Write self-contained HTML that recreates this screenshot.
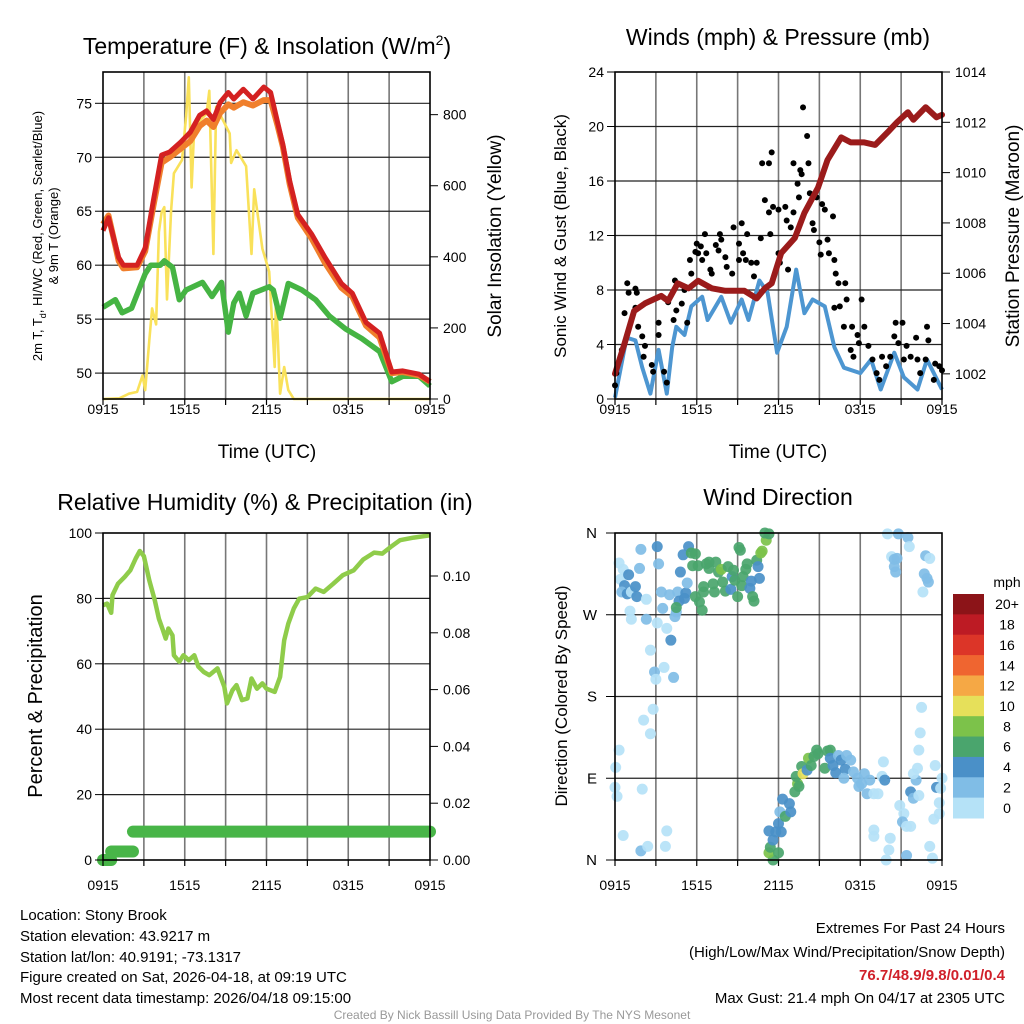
<!DOCTYPE html>
<html><head><meta charset="utf-8"><style>
html,body{margin:0;padding:0;background:#fff;}
svg{display:block;font-family:"Liberation Sans",Arial,sans-serif;}
</style></head><body>
<svg id="chart" width="1024" height="1024" viewBox="0 0 1024 1024" xmlns="http://www.w3.org/2000/svg">
<rect x="0" y="0" width="1024" height="1024" fill="#fff"/>
<g id="p1"></g>
<g id="p2"></g>
<g id="p3"></g>
<g id="p4"></g>

<text x="267" y="54" font-size="23" text-anchor="middle">Temperature (F) &amp; Insolation (W/m<tspan dy="-9" font-size="14">2</tspan><tspan dy="9">)</tspan></text>
<text x="778" y="45" font-size="23" text-anchor="middle">Winds (mph) &amp; Pressure (mb)</text>
<text x="265" y="510" font-size="23" text-anchor="middle">Relative Humidity (%) &amp; Precipitation (in)</text>
<text x="778" y="505" font-size="23" text-anchor="middle">Wind Direction</text>

<text x="267" y="458" font-size="19" text-anchor="middle">Time (UTC)</text>
<text x="778" y="458" font-size="19" text-anchor="middle">Time (UTC)</text>

<text transform="translate(42,236) rotate(-90)" font-size="13" text-anchor="middle">2m T, T<tspan dy="4" font-size="9">d</tspan><tspan dy="-4">, HI/WC (Red, Green, Scarlet/Blue)</tspan></text>
<text transform="translate(58,236) rotate(-90)" font-size="13" text-anchor="middle">&amp; 9m T (Orange)</text>
<text transform="translate(501,236) rotate(-90)" font-size="19" text-anchor="middle">Solar Insolation (Yellow)</text>
<text transform="translate(566,236) rotate(-90)" font-size="17" text-anchor="middle">Sonic Wind &amp; Gust (Blue, Black)</text>
<text transform="translate(1019,236) rotate(-90)" font-size="19" text-anchor="middle">Station Pressure (Maroon)</text>
<text transform="translate(42,696) rotate(-90)" font-size="20" text-anchor="middle">Percent &amp; Precipitation</text>
<text transform="translate(567,696) rotate(-90)" font-size="17" text-anchor="middle">Direction (Colored By Speed)</text>

<g font-size="15">
<text x="20" y="920">Location: Stony Brook</text>
<text x="20" y="941">Station elevation: 43.9217 m</text>
<text x="20" y="962">Station lat/lon: 40.9191; -73.1317</text>
<text x="20" y="982">Figure created on Sat, 2026-04-18, at 09:19 UTC</text>
<text x="20" y="1003">Most recent data timestamp: 2026/04/18 09:15:00</text>
</g>
<g font-size="15" text-anchor="end">
<text x="1005" y="933">Extremes For Past 24 Hours</text>
<text x="1005" y="957">(High/Low/Max Wind/Precipitation/Snow Depth)</text>
<text x="1005" y="980" fill="#d0202a" font-weight="bold">76.7/48.9/9.8/0.01/0.4</text>
<text x="1005" y="1003">Max Gust: 21.4 mph On 04/17 at 2305 UTC</text>
</g>
<text x="512" y="1019" font-size="12" fill="#999" text-anchor="middle">Created By Nick Bassill Using Data Provided By The NYS Mesonet</text>
</svg>
<script>
// ---------- data ----------
const xTickLabels = ["0915","1515","2115","0315","0915"];
const tempT  = [0,0.4,1.15,1.5,2.5,3.1,3.7,4.3,4.9,5.7,6.4,7.1,7.6,8.1,8.6,9.2,9.6,10.3,11,11.8,12.3,12.8,13.2,13.7,14.3,15.3,16.3,17.5,18.3,19.3,20.3,21.2,22,23.2,24];
const tempRed= [63.2,64.4,60.7,60,60,61.6,66,70.2,70.5,71.4,72.3,73.9,74.3,73.5,75.1,76,75.4,76.3,75.4,76.5,76,73.3,71.2,67.8,64.7,62.9,60.7,58.3,57.4,54.7,53.7,50.1,50.2,49.9,49.2];
const temp9m = [63.8,64.6,60.4,59.7,59.8,61.3,65.5,69.5,70.0,70.8,71.5,72.9,73.4,72.8,74.1,74.9,74.6,75.1,74.8,75.3,75.3,73.0,71.0,67.5,64.4,62.5,60.2,57.9,57.1,54.4,53.3,50.0,50.1,49.8,49.2];
const dewT = [0,0.9,1.4,2.1,3.1,3.5,4.2,4.5,5.1,5.6,6.1,7.3,8,8.7,9.2,9.6,10,10.5,11,12.2,12.5,13,13.6,14.6,15.6,16.6,17.8,19,20.3,21.2,22,23.2,24];
const dewV = [56.1,56.8,55.6,56,59.2,60,60,60.4,59.8,56.8,57.7,58.4,57.1,58.4,53.8,56.5,57.4,55.3,57.4,58,57.7,55.1,58.3,57.7,56.8,55.3,54.1,53.2,52,49.2,49.7,49.7,48.8];
const solarT = [0,1.2,1.9,2.5,2.9,3.1,3.4,3.6,3.9,4.1,4.3,4.5,4.7,5,5.2,5.8,6.1,6.3,6.5,6.7,7.6,7.8,8.1,8.3,8.6,9.3,9.4,9.8,10.5,10.9,11.1,11.7,12.2,12.6,12.7,13,13.3,13.6,14,24];
const solarV = [0,2,15,20,66,25,165,255,210,470,525,540,280,530,635,672,795,905,595,767,803,867,408,822,800,747,664,700,655,408,590,423,358,90,294,15,90,25,0,0];
const pressT = [0,0.7,1.4,2.2,3.4,3.9,4.6,5.4,6.1,7.1,8.1,9.5,10.4,11,11.5,12.2,13.2,13.9,14.9,15.6,16.6,17.3,18.3,19.1,20,20.7,21.5,21.9,22.8,23.6,24];
const pressV = [1002.0,1003.2,1004.5,1004.8,1005.1,1004.9,1005.6,1005.4,1005.7,1005.4,1005.3,1005.3,1005.0,1005.4,1005.6,1006.8,1007.4,1008.4,1009.4,1010.5,1011.4,1011.2,1011.2,1011.1,1011.6,1012.0,1012.4,1012.1,1012.6,1012.2,1012.3];
const windT = [0,0.85,1.5,2,2.6,3.2,3.8,4.2,4.5,5.1,5.6,6.4,6.8,7.8,8.5,9.3,9.8,10.6,11.2,11.9,12.6,13.3,13.9,14.5,15.4,16.1,16.8,18,18.8,19.5,20.5,21.2,22.2,22.9,24];
const windV = [0.1,4.5,4.3,2.3,0.4,3.6,0.4,3.8,5.3,4.7,6.8,7.5,5.8,7.5,5.6,7.3,5.8,8.7,7.8,3.4,5.3,9.5,6.3,7.3,6.8,3.8,2.3,1.9,2.9,0.7,3.4,1.6,0.7,2.9,0.7];
const gustT = [0,0.1,0.5,0.7,0.9,1.0,1.5,1.6,1.5,1.7,2.0,2.2,2.1,2.7,2.8,3.2,3.2,3.6,3.8,3.9,4.3,4.5,4.4,4.9,5.1,5.3,5.5,5.6,6.0,6.3,6.1,6.6,6.4,5.9,6.7,7.0,7.1,7.4,7.7,7.6,7.8,8.1,8.2,8.6,8.7,9.1,9.1,9.3,9.4,9.6,9.7,10.0,10.2,10.4,10.7,10.8,11.0,11.3,11.3,11.4,11.5,11.6,12.0,12.0,12.1,12.5,12.6,12.9,12.7,13.1,13.1,13.4,13.5,13.6,13.7,13.8,14.1,14.2,14.3,14.5,14.6,14.8,15.0,15.1,15.2,15.4,15.6,15.7,16.0,16.1,16.2,16.4,16.9,16.1,16.5,17.0,16.8,17.3,17.4,17.5,17.8,18.1,18.3,17.9,18.6,18.9,19.2,19.4,19.6,19.9,20.2,20.5,20.6,20.8,21.1,21.2,21.4,21.7,22.1,22.2,22.4,22.8,22.9,23.0,23.5,23.8,24,23.4];
const gustV = [1.0,1.9,3.6,6.3,8.5,7.8,8.1,7.8,6.7,5.3,4.6,3.9,3.1,2.5,2.0,5.6,4.7,2.0,1.2,7.1,5.8,6.5,8.7,7.0,8.0,5.6,10.2,9.2,11.4,11.2,10.7,12.1,10.2,10.8,10.7,9.5,9.2,11.3,12.1,10.9,11.7,10.4,9.7,9.2,12.6,11.4,10.2,12.9,10.7,10.2,12.1,10.0,9.0,10.0,11.8,17.3,14.6,13.7,17.3,12.1,18.1,14.1,13.9,10.7,10.0,14.1,13.1,12.6,9.5,13.7,17.3,15.8,14.8,16.8,16.5,21.4,19.3,17.3,15.1,12.9,12.4,14.8,11.5,10.6,14.3,13.9,11.7,10.7,13.4,10.2,9.2,8.5,8.5,6.7,6.8,7.3,5.3,3.6,5.3,3.1,4.7,7.3,5.3,4.1,3.9,2.9,1.9,1.4,3.1,2.4,3.1,4.6,5.6,4.1,5.6,2.9,3.9,3.1,4.5,2.9,1.9,2.9,5.3,4.3,2.6,2.4,2.1,1.4];
const rhT = [0,0.3,0.6,0.7,1.1,1.6,2.0,2.4,2.7,3.0,3.4,3.8,4.1,4.4,4.6,4.8,5.1,5.2,5.6,5.9,6.3,6.7,7.0,7.4,7.8,8.4,8.9,9.1,9.5,9.8,10.2,10.6,10.9,11.3,11.7,12.0,12.6,13.0,13.3,13.6,14.0,14.4,15.0,15.6,16.2,16.9,17.6,18.4,19.1,19.9,20.5,21.1,21.8,22.8,24];
const rhV = [77.9,78.4,75.6,81,84.5,86.6,88.6,92.2,94.5,92.9,85.5,79.4,73.8,70.3,67.7,70.8,68.7,62.6,60.6,62.6,61.1,62.6,59.1,57.5,56.5,58.6,53,47.9,51.9,53.5,48.9,49.4,55.5,52.4,54,52.4,51.4,56,67.2,72.3,76.9,79.9,80.4,83,82,84.5,87.1,88.6,91.9,94,93.7,95.7,97.8,98.6,99.3];
const precipT = [0,0.6,0.6,2.2,2.2,24];
const precipV = [0,0,0.003,0.003,0.01,0.01];
const dirT = [0.3,0.4,0.6,1.0,0.7,0.5,0.9,1.2,1.6,1.5,1.8,1.9,1.1,1.2,2.3,2.3,3.1,3.2,3.4,3.5,3.1,3.8,4.1,2.6,2.9,3.0,3.6,4.3,2.1,2.8,2.6,0.3,0.05,0,0.15,2.0,0.6,1.9,2.4,3.8,3.7,4.0,4.6,4.4,4.5,4.7,5.1,5.2,5.3,4.8,5.0,5.4,4.5,5.6,5.9,5.7,6.1,5.9,6.2,6.4,6.5,6.5,6.7,6.9,6.9,7.2,7.3,7.4,7.6,7.8,7.9,8.1,8.3,8.5,8.6,8.7,8.8,9.1,9.2,9.0,9.3,9.4,9.6,9.7,9.9,10.0,10.1,10.2,10.4,10.5,10.6,10.7,10.8,11.1,11.0,11.3,11.6,11.3,11.4,12.0,11.6,11.3,11.8,12.2,12.0,12.1,12.3,12.5,12.8,12.9,13.2,13.4,13.5,13.3,13.7,13.8,14.1,14.2,14.4,14.6,14.8,14.9,15.4,15.6,15.8,15.8,16.0,16.2,16.4,16.6,16.9,17.0,17.3,16.8,17.5,17.8,17.9,18.1,18.3,18.5,18.7,19.0,19.3,19.7,19.6,19.8,19.0,19.0,20.1,20.2,19.9,20.0,20.3,20.5,20.7,20.5,20.6,20.8,21.5,21.6,20.9,21.2,21.1,21.4,21.7,21.4,21.7,21.9,22.3,22.1,21.9,22.2,22.3,22.4,22.5,22.8,23.1,22.7,22.9,23.0,22.6,23.1,23.3,23.4,23.5,23.6,23.8,23.8,24.0,23.9];
const dirDeg = [327,309,320,314,302,295,293,295,290,301,321,342,274,265,287,265,345,326,295,277,261,255,242,231,207,199,212,201,154,166,139,121,102,80,70,78,27,10,15,32,15,292,295,268,273,285,288,294,305,317,336,345,278,338,337,324,324,290,284,275,295,301,326,328,321,304,295,328,317,320,306,296,323,298,312,319,308,344,341,290,302,312,320,326,299,307,290,285,330,323,310,338,340,352,360,359,0,8,14,8,22,32,31,31,40,53,67,48,62,53,75,84,81,92,103,95,99,112,104,114,121,117,101,120,121,112,104,96,115,110,100,115,110,90,97,90,81,84,95,73,88,73,73,108,92,88,33,26,11,24,0,359,334,331,332,323,317,359,355,345,60,51,42,37,37,5,75,68,71,88,95,101,121,140,168,335,332,315,310,306,295,15,2,45,104,80,63,51,90,79];
const dirSpd = [1,1,1,5,5,3,5,1,5,5,3,3,1,1,1,3,5,3,3,3,1,1,5,1,3,1,1,3,1,1,1,1,1,1,1,1,1,3,1,1,1,3,3,3,3,5,5,5,3,5,5,5,7,7,7,7,7,7,7,7,7,7,7,7,7,7,7,7,7,9,7,7,7,5,5,7,7,7,7,7,7,7,7,7,5,5,7,7,7,5,5,9,9,9,7,7,7,9,7,7,5,5,5,5,5,3,5,7,5,5,7,9,7,7,7,11,5,9,7,7,7,7,7,7,7,5,5,5,3,5,5,3,3,3,3,3,3,3,3,3,3,1,1,1,1,5,1,1,1,1,1,1,1,3,3,3,3,3,3,1,1,1,3,1,1,3,5,3,1,3,1,1,1,1,1,3,1,3,3,3,1,1,1,1,1,5,1,1,1,1];
const dirLabels = ["N","E","S","W","N"];
const speedBins = ["0","2","4","6","8","10","12","14","16","18","20+"];
const binColors = ["#b5e2f7","#80bde6","#4a90c8","#4aa56d","#7cc24a","#e6e05a","#f5a845","#ef6530","#dc3528","#bd1b24","#8c1418"];

// ---------- helpers ----------
const NS="http://www.w3.org/2000/svg";
function mk(parent,tag,attrs,text){const e=document.createElementNS(NS,tag);for(const k in attrs)e.setAttribute(k,attrs[k]);if(text!==undefined)e.textContent=text;parent.appendChild(e);return e;}
function lin(d0,d1,r0,r1){return v=>r0+(v-d0)/(d1-d0)*(r1-r0);}
function pathD(xs,ys,fx,fy){return xs.map((t,i)=>(i?"L":"M")+fx(t).toFixed(1)+","+fy(ys[i]).toFixed(1)).join("");}

function frame(g,L,R,T,B,fx,hVals,fyLeft){
  for(let h=3;h<24;h+=3){const l=mk(g,"line",{x1:fx(h),x2:fx(h),y1:T,y2:B,stroke:"#777","stroke-width":1.6});
    
    }
  hVals.forEach(v=>{const y=fyLeft(v);if(y>T+1&&y<B-1){const l=mk(g,"line",{x1:L,x2:R,y1:y,y2:y,stroke:"#222","stroke-width":1.2});
    
    }});
}
function border(g,L,R,T,B){const r=mk(g,"rect",{x:L,y:T,width:R-L,height:B-T,fill:"none",stroke:"#000","stroke-width":1.6});
  
  
  for(let h=0;h<=24;h+=3){const x=L+(R-L)*h/24;const l=mk(g,"line",{x1:x,x2:x,y1:B,y2:B+6,stroke:"#000","stroke-width":1.2});
    
    }
}
function xLabels(g,fx,y){xTickLabels.forEach((s,i)=>{const t=mk(g,"text",{x:fx(i*6),y:y,"font-size":14,"text-anchor":"middle"},s);
  
  });}
// axisX: the axis line x; side -1 = left axis (ticks out to left), +1 = right axis
function yLabels(g,vals,fy,axisX,side,fmt){vals.forEach(v=>{const y=fy(v);
  const tx=side<0?axisX-11:axisX+13;
  const t=mk(g,"text",{x:tx,y:y+5,"font-size":14,"text-anchor":side<0?"end":"start"},fmt(v));
  
  
  const l=mk(g,"line",{x1:axisX,x2:axisX+side*8,y1:y,y2:y,stroke:"#000","stroke-width":1});
  
  });}

// ---------- panel 1 ----------
(function(){
 const g=document.getElementById("p1");const L=103,R=430,T=72,B=399;
 const fx=lin(0,24,L,R), fy=lin(47.6,77.9,B,T), fs=lin(0,920,B,T);
 const tTicks=[50,55,60,65,70,75], sTicks=[0,200,400,600,800];
 frame(g,L,R,T,B,fx,tTicks,fy);
 let p=mk(g,"path",{d:pathD(solarT,solarV,fx,fs),fill:"none",stroke:"#f9e15a","stroke-width":2.6,"stroke-linejoin":"round"});
 
 
 p=mk(g,"path",{d:pathD(dewT,dewV,fx,fy),fill:"none",stroke:"#45b443","stroke-width":5.5,"stroke-linejoin":"round"});
 
 
 p=mk(g,"path",{d:pathD(tempT,temp9m,fx,fy),fill:"none",stroke:"#f07f2c","stroke-width":6,"stroke-linejoin":"round"});
 
 
 p=mk(g,"path",{d:pathD(tempT,tempRed,fx,fy),fill:"none",stroke:"#d42121","stroke-width":5,"stroke-linejoin":"round"});
 
 
 border(g,L,R,T,B);
 yLabels(g,tTicks,fy,L,-1,v=>v);
 yLabels(g,sTicks,fs,R,1,v=>v);
 xLabels(g,fx,414);
})();

// ---------- panel 2 ----------
(function(){
 const g=document.getElementById("p2");const L=615,R=942,T=72,B=399;
 const fx=lin(0,24,L,R), fy=lin(0,24,B,T), fp=lin(1001,1014,B,T);
 const wTicks=[0,4,8,12,16,20,24], pTicks=[1002,1004,1006,1008,1010,1012,1014];
 frame(g,L,R,T,B,fx,wTicks,fy);
 let p=mk(g,"path",{d:pathD(windT,windV,fx,fy),fill:"none",stroke:"#4d96d1","stroke-width":4,"stroke-linejoin":"round"});
 
 
 gustT.forEach((t,i)=>{const c=mk(g,"circle",{cx:fx(t),cy:fy(gustV[i]),r:3,fill:"#000"});
   
   });
 p=mk(g,"path",{d:pathD(pressT,pressV,fx,fp),fill:"none",stroke:"#9b1b1b","stroke-width":6,"stroke-linejoin":"round","stroke-linecap":"round"});
 
 
 border(g,L,R,T,B);
 yLabels(g,wTicks,fy,L,-1,v=>v);
 yLabels(g,pTicks,fp,R,1,v=>v);
 xLabels(g,fx,414);
})();

// ---------- panel 3 ----------
(function(){
 const g=document.getElementById("p3");const L=103,R=430,T=533,B=860;
 const fx=lin(0,24,L,R), fy=lin(0,100,B,T), fr=lin(0,0.1,B,576);
 const hTicks=[0,20,40,60,80,100], rTicks=[0,0.02,0.04,0.06,0.08,0.1];
 frame(g,L,R,T,B,fx,hTicks,fy);
 let p=mk(g,"path",{d:pathD(rhT,rhV,fx,fy),fill:"none",stroke:"#8fcc4a","stroke-width":4.5,"stroke-linejoin":"round"});
 
 
 for(let i=0;i<precipT.length-1;i++){ if(precipV[i]!==precipV[i+1]) continue;
   const s=mk(g,"line",{x1:fx(precipT[i]),x2:fx(precipT[i+1]),y1:fr(precipV[i]),y2:fr(precipV[i]),stroke:"#48b548","stroke-width":12,"stroke-linecap":"round"});
   
   }
 border(g,L,R,T,B);
 yLabels(g,hTicks,fy,L,-1,v=>v);
 yLabels(g,rTicks,fr,R,1,v=>v.toFixed(2));
 xLabels(g,fx,890);
})();

// ---------- panel 4 ----------
(function(){
 const g=document.getElementById("p4");const L=615,R=942,T=533,B=860;
 const fx=lin(0,24,L,R), fy=lin(0,360,B,T);
 const dTicks=[0,90,180,270,360];
 frame(g,L,R,T,B,fx,dTicks,fy);
 dirT.forEach((t,i)=>{const b=Math.min(10,Math.floor(dirSpd[i]/2));
   const c=mk(g,"circle",{cx:fx(t),cy:fy(dirDeg[i]),r:5.5,fill:binColors[b],"fill-opacity":0.92});
   
   });
 border(g,L,R,T,B);
 dTicks.forEach((v,i)=>{const t=mk(g,"text",{x:597,y:fy(v)+5,"font-size":15,"text-anchor":"end"},dirLabels[i]);
   
   
   const l=mk(g,"line",{x1:606,x2:615,y1:fy(v),y2:fy(v),stroke:"#000"});
   
   });
 xLabels(g,fx,890);
 const cb=mk(g,"g",{});
 
 
 const t0=mk(cb,"text",{x:1007,y:587,"font-size":14,"text-anchor":"middle"},"mph");
 
 
 const h=(818-594)/speedBins.length;
 speedBins.forEach((s,i)=>{const k=speedBins.length-1-i;const y=594+i*h;
   const r=mk(cb,"rect",{x:953,y:y,width:31,height:h+0.5,fill:binColors[k]});
   
   
   const t=mk(cb,"text",{x:1007,y:y+h/2+5,"font-size":14,"text-anchor":"middle"},speedBins[k]);
   
   });
})();
</script>
</body></html>
